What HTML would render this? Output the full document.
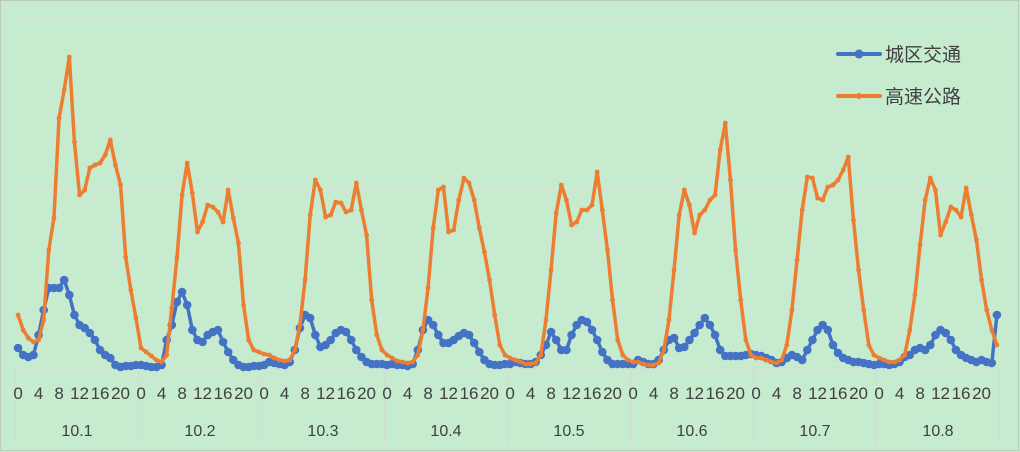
<!DOCTYPE html>
<html><head><meta charset="utf-8"><style>
html,body{margin:0;padding:0;background:#c6ebcf;}
svg{display:block;font-family:"Liberation Sans","Noto Sans CJK SC",sans-serif;}
</style></head><body>
<svg id="chart" width="1020" height="452" viewBox="0 0 1020 452">
<rect x="0.5" y="0.5" width="1018" height="450" fill="#c6ebcf" stroke="#b9c9bd"/>
<g id="grid"></g><g id="axis"></g><g id="series"></g>
<g>
<g>
<line x1="838" y1="54" x2="880" y2="54" stroke="#4472c4" stroke-width="4" stroke-linecap="round"/>
<circle cx="859" cy="54" r="4.5" fill="#4472c4"/>
<text x="885" y="61" font-size="19" fill="#404040">城区交通</text></g>
<g>
<line x1="838" y1="96" x2="880" y2="96" stroke="#ed7d31" stroke-width="4" stroke-linecap="round"/>
<circle cx="859" cy="96" r="3" fill="#ed7d31"/>
<text x="885" y="103" font-size="19" fill="#404040">高速公路</text></g>
</g>
</svg>
<script>
const days=["10.1","10.2","10.3","10.4","10.5","10.6","10.7","10.8"];
const hourTicks=["0","4","8","12","16","20"];
const gridValues=[178,352];
const highway=[
53,38,30,26,28,48,118,150,250,278,311,226,173,178,200,203,205,213,228,203,183,111,78,50,
20,16,12,8,6,13,60,110,173,205,175,136,146,163,161,156,146,178,150,125,63,28,18,16,
14,13,10,8,7,8,18,43,88,153,188,178,151,153,166,165,156,158,185,158,133,68,33,18,
13,10,7,6,5,6,13,38,80,140,178,181,136,138,168,190,185,168,140,116,88,53,23,13,
10,8,6,4,4,5,13,48,98,155,183,168,143,146,158,158,163,196,158,118,68,28,13,8,
6,6,4,3,3,5,18,48,98,153,178,163,135,153,158,168,173,218,245,188,118,68,28,13,
10,10,8,6,5,8,23,58,108,158,191,190,170,168,181,183,188,198,211,148,98,58,23,13,
10,8,6,6,8,13,38,73,123,168,190,178,133,146,161,158,151,180,153,128,88,58,38,23];
const urban=[
20,13,11,13,33,58,80,80,80,88,73,53,43,40,35,28,18,13,10,3,1,2,2,3,
3,2,1,1,3,28,43,66,76,63,38,28,26,33,36,38,26,16,8,3,1,1,2,2,
3,6,5,4,3,6,18,40,53,50,33,21,23,28,35,38,36,28,18,11,6,4,4,4,
3,4,3,3,2,4,18,38,48,43,33,25,25,28,32,35,33,25,16,8,4,3,3,4,
4,6,5,4,4,6,13,23,36,28,18,18,33,43,48,46,38,28,16,8,4,4,4,4,
4,8,6,4,4,8,18,28,30,20,21,28,35,43,50,43,33,18,12,12,12,12,13,14,
13,12,10,8,5,6,10,13,11,8,18,28,38,43,38,23,15,10,8,6,6,5,4,3,
4,4,3,4,6,11,13,18,20,18,23,33,38,35,28,18,13,10,8,6,8,6,5,53];
const NS="http://www.w3.org/2000/svg";
const X0=15.5,X1=999.5,Y0=368,YS=1.0;
const n=days.length*24, cw=(X1-X0)/n;
function xs(i){return X0+cw*(i+0.5);}
function ys(v){return Y0-v*YS;}
function mk(tag,attrs,parent){const e=document.createElementNS(NS,tag);for(const k in attrs)e.setAttribute(k,attrs[k]);parent.appendChild(e);return e;}
const grid=document.getElementById('grid'),axis=document.getElementById('axis'),ser=document.getElementById('series');
gridValues.forEach(v=>{const l=mk('line',{x1:X0,x2:X1,y1:ys(v),y2:ys(v),stroke:'#d9e4dc','stroke-width':1.5},grid);

});
const base=mk('line',{x1:X0,x2:X1,y1:Y0,y2:Y0,stroke:'#d2ddd5','stroke-width':1.5},axis);


for(let d=0;d<=days.length;d++){const x=X0+cw*24*d;
const l=mk('line',{x1:x,x2:x,y1:Y0,y2:446,stroke:'#d2ddd5','stroke-width':1.5},axis);

}
days.forEach((dl,d)=>{
hourTicks.forEach(h=>{const t=mk('text',{x:xs(d*24+(+h)),y:399,'font-size':17,'text-anchor':'middle',fill:'#404040'},axis);t.textContent=h;

});
const t=mk('text',{x:X0+cw*24*(d+0.5),y:436,'font-size':16,'text-anchor':'middle',fill:'#404040'},axis);t.textContent=dl;

});
function draw(data,color,r,name){
const g=mk('g',{},ser);


const p=mk('polyline',{points:data.map((v,i)=>xs(i)+','+ys(v)).join(' '),fill:'none',stroke:color,'stroke-width':3.5,'stroke-linejoin':'round'},g);


data.forEach((v,i)=>{const c=mk('circle',{cx:xs(i),cy:ys(v),r:r,fill:color},g);

});}
draw(urban,'#4472c4',4.3,'urban');
draw(highway,'#ed7d31',2.4,'highway');
</script>
</body></html>
